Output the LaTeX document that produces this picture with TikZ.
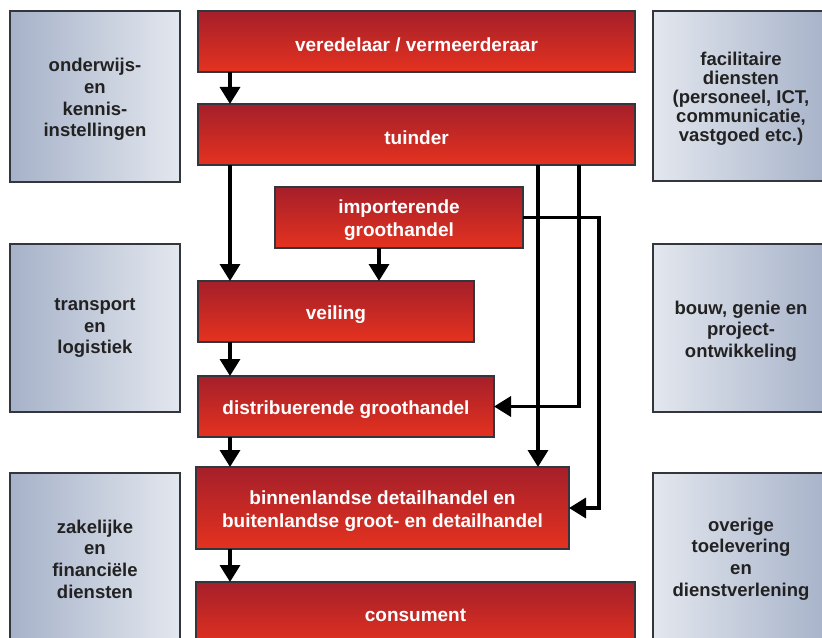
\documentclass[tikz,border=0pt]{standalone}
\usepackage{fontspec}
\setmainfont{Liberation Sans}
\usetikzlibrary{arrows.meta}
\definecolor{redtop}{HTML}{A51F2A}
\definecolor{redbot}{HTML}{E5321F}
\definecolor{bluedark}{HTML}{A6B2C9}
\definecolor{bluelight}{HTML}{E3E7EE}
\definecolor{edgegrey}{HTML}{33363D}
\definecolor{txtdark}{HTML}{222222}
\newcommand\dnstrut{\rule{0pt}{19.5bp}}
\begin{document}
\begin{tikzpicture}[x=1bp,y=-1bp,
  redbox/.style={draw=edgegrey, line width=1.6bp, top color=redtop, bottom color=redbot,
    anchor=north west, text=white, font=\bfseries\fontsize{19bp}{23bp}\selectfont,
    align=center, inner sep=0pt, outer sep=0pt},
  sidebox/.style={draw=edgegrey, line width=1.6bp, anchor=north west, text=txtdark,
    font=\bfseries\fontsize{18.5bp}{21.7bp}\selectfont, align=center, inner sep=0pt, outer sep=0pt},
  leftbox/.style={sidebox, left color=bluedark, right color=bluelight},
  rightbox/.style={sidebox, left color=bluelight, right color=bluedark},
  arr/.style={draw=black, line width=3.4bp, line join=miter, -{Triangle[width=20bp,length=17bp]}}
]
\useasboundingbox (0,0) rectangle (822,638);
\clip (0,0) rectangle (822,638);
\fill[white] (0,0) rectangle (822,638);

% side boxes
\node[leftbox, minimum width=170bp, minimum height=171bp] (onderwijs) at (10,11)
  {\dnstrut onderwijs-\\en\\kennis-\\instellingen};
\node[leftbox, minimum width=170bp, minimum height=168bp] (transport) at (10,244)
  {transport\\en\\logistiek};
\node[leftbox, minimum width=170bp, minimum height=172bp] (zakelijk) at (10,473)
  {zakelijke\\en\\financiële\\diensten};
\node[rightbox, minimum width=176bp, minimum height=170bp,
  font=\bfseries\fontsize{18.5bp}{19bp}\selectfont] (facilitair) at (653,11)
  {\dnstrut facilitaire\\diensten\\(personeel, ICT,\\communicatie,\\vastgoed etc.)};
\node[rightbox, minimum width=176bp, minimum height=168bp] (bouw) at (653,244)
  {\dnstrut bouw, genie en\\project-\\ontwikkeling};
\node[rightbox, minimum width=176bp, minimum height=172bp] (overig) at (653,473)
  {overige\\toelevering\\en\\dienstverlening};

% red boxes
\node[redbox, minimum width=437bp, minimum height=61bp] (ver) at (198,11) {\dnstrut veredelaar / vermeerderaar};
\node[redbox, minimum width=437bp, minimum height=61bp] (tui) at (198,104) {\dnstrut tuinder};
\node[redbox, minimum width=248bp, minimum height=61bp] (imp) at (275,187) {\dnstrut importerende\\groothandel};
\node[redbox, minimum width=276bp, minimum height=61bp] (veil) at (198,281) {\dnstrut veiling};
\node[redbox, minimum width=296bp, minimum height=61bp] (dis) at (198,376) {\dnstrut distribuerende groothandel};
\node[redbox, minimum width=373bp, minimum height=82bp] (bin) at (196,467)
  {\dnstrut binnenlandse detailhandel en\\buitenlandse groot- en detailhandel};
\node[redbox, minimum width=439bp, minimum height=66bp] (con) at (196,582) {consument};

% connector columns
\coordinate (c1) at (230,0);
\coordinate (c2) at (379,0);
\coordinate (c3) at (538,0);
\coordinate (c4) at (579,0);
\coordinate (c5) at (599,0);

\draw[arr] (ver.south -| c1) -- (tui.north -| c1);
\draw[arr] (tui.south -| c1) -- (veil.north -| c1);
\draw[arr] (imp.south -| c2) -- (veil.north -| c2);
\draw[arr] (veil.south -| c1) -- (dis.north -| c1);
\draw[arr] (dis.south -| c1) -- (bin.north -| c1);
\draw[arr] (bin.south -| c1) -- (con.north -| c1);
\draw[arr] (tui.south -| c3) -- (bin.north -| c3);
\draw[arr] (tui.south -| c4) |- (dis.east);
\draw[arr] (imp.east) -- (imp.east -| c5) |- (bin.east);
\end{tikzpicture}
\end{document}
